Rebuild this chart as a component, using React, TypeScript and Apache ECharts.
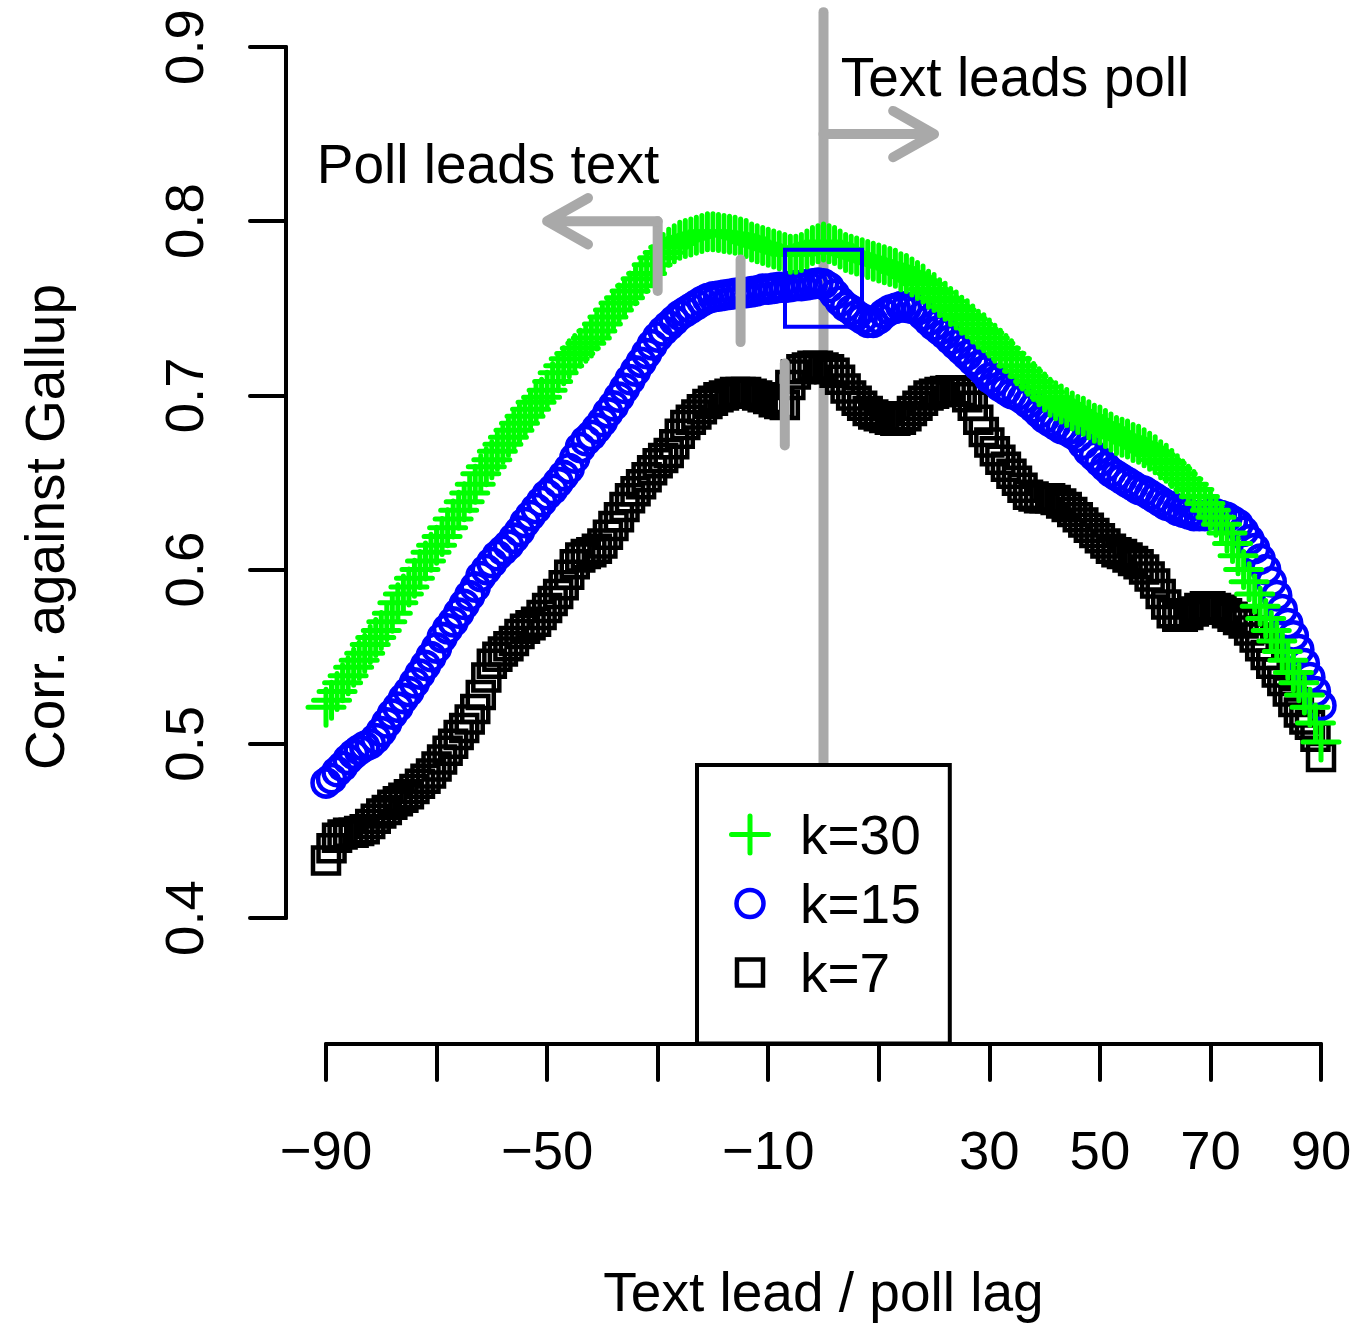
import React, { useEffect, useRef } from "react";
import * as echarts from "echarts";

const W = 1358;
const H = 1323;
const FONT = "'Liberation Sans', Arial, Helvetica, sans-serif";
const FS = 55;
const FS_TICK = 54.5;
const GREY = "#A9A9A9";

// lags -90 .. 90
const lags: number[] = Array.from({ length: 181 }, (_, i) => i - 90);

// k = 30 (green +)
const k30: number[] = [
  0.521, 0.525, 0.53, 0.535, 0.539, 0.544, 0.548, 0.552, 0.557, 0.561,
  0.565, 0.57, 0.575, 0.581, 0.586, 0.59, 0.595, 0.6, 0.605, 0.61,
  0.614, 0.619, 0.624, 0.629, 0.634, 0.639, 0.644, 0.649, 0.655, 0.659,
  0.663, 0.668, 0.672, 0.676, 0.68, 0.684, 0.688, 0.692, 0.696, 0.699,
  0.703, 0.708, 0.713, 0.717, 0.721, 0.724, 0.727, 0.73, 0.733, 0.737,
  0.741, 0.745, 0.749, 0.753, 0.756, 0.76, 0.763, 0.767, 0.77, 0.775,
  0.779, 0.782, 0.785, 0.787, 0.789, 0.79, 0.791, 0.792, 0.793, 0.794,
  0.794, 0.7935, 0.793, 0.7925, 0.792, 0.791, 0.79, 0.788, 0.787, 0.786,
  0.785, 0.784, 0.783, 0.782, 0.781, 0.781, 0.782, 0.784, 0.786, 0.787,
  0.788, 0.787, 0.786, 0.784, 0.782, 0.781, 0.78, 0.779, 0.778, 0.777,
  0.776, 0.775, 0.774, 0.773, 0.771, 0.77, 0.768, 0.766, 0.764, 0.761,
  0.759, 0.756, 0.754, 0.751, 0.749, 0.746, 0.744, 0.741, 0.738, 0.736,
  0.733, 0.73, 0.727, 0.724, 0.721, 0.717, 0.714, 0.711, 0.708, 0.705,
  0.702, 0.699, 0.697, 0.695, 0.693, 0.691, 0.689, 0.688, 0.686, 0.684,
  0.683, 0.681, 0.679, 0.677, 0.676, 0.675, 0.673, 0.672, 0.67, 0.668,
  0.666, 0.663, 0.661, 0.658, 0.655, 0.652, 0.649, 0.646, 0.642, 0.638,
  0.634, 0.63, 0.626, 0.621, 0.615, 0.608, 0.6, 0.593, 0.586, 0.579,
  0.572, 0.565, 0.559, 0.553, 0.548, 0.541, 0.535, 0.528, 0.521, 0.512,
  0.501,
];

// k = 15 (blue o)
const k15: number[] = [
  0.4775, 0.48, 0.484, 0.487, 0.491, 0.494, 0.4965, 0.4985, 0.5, 0.503,
  0.507, 0.512, 0.517, 0.521, 0.526, 0.53, 0.535, 0.54, 0.545, 0.55,
  0.555, 0.561, 0.566, 0.57, 0.575, 0.58, 0.585, 0.59, 0.596, 0.6,
  0.604, 0.608, 0.611, 0.614, 0.618, 0.622, 0.627, 0.631, 0.635, 0.639,
  0.643, 0.646, 0.65, 0.654, 0.658, 0.664, 0.67, 0.674, 0.677, 0.681,
  0.685, 0.69, 0.694, 0.699, 0.704, 0.709, 0.714, 0.719, 0.724, 0.729,
  0.7335, 0.737, 0.74, 0.743, 0.746, 0.748, 0.75, 0.752, 0.754, 0.7555,
  0.7565, 0.757, 0.7575, 0.758, 0.7585, 0.759, 0.759, 0.7595, 0.76, 0.761,
  0.761, 0.7615, 0.762, 0.762, 0.7625, 0.763, 0.763, 0.7635, 0.764, 0.7645,
  0.764, 0.762, 0.758, 0.754, 0.751, 0.749, 0.746, 0.744, 0.742, 0.742,
  0.744, 0.747, 0.749, 0.75, 0.751, 0.7505, 0.75, 0.749, 0.746, 0.743,
  0.74, 0.7375, 0.735, 0.732, 0.729, 0.726, 0.723, 0.72, 0.717, 0.714,
  0.71, 0.708, 0.705, 0.703, 0.701, 0.7, 0.698, 0.6956, 0.693, 0.69,
  0.687, 0.685, 0.683, 0.681, 0.68, 0.678, 0.676, 0.672, 0.668, 0.665,
  0.662, 0.659, 0.656, 0.654, 0.652, 0.65, 0.648, 0.646, 0.645, 0.643,
  0.641, 0.639, 0.637, 0.636, 0.634, 0.633, 0.632, 0.631, 0.631, 0.631,
  0.632, 0.632, 0.631, 0.63, 0.628, 0.626, 0.622, 0.617, 0.612, 0.606,
  0.6, 0.593, 0.585, 0.577, 0.569, 0.562, 0.554, 0.546, 0.538, 0.53,
  0.522,
];

// k = 7 (black squares)
const k7: number[] = [
  0.433, 0.44, 0.446, 0.448, 0.449, 0.449, 0.45, 0.451, 0.454, 0.457,
  0.46, 0.462, 0.465, 0.467, 0.469, 0.471, 0.474, 0.477, 0.48, 0.483,
  0.487, 0.491, 0.496, 0.5, 0.505, 0.509, 0.514, 0.52, 0.528, 0.538,
  0.546, 0.55, 0.553, 0.556, 0.559, 0.563, 0.566, 0.568, 0.57, 0.574,
  0.578, 0.582, 0.586, 0.591, 0.597, 0.603, 0.607, 0.609, 0.61, 0.612,
  0.615, 0.62, 0.625, 0.63, 0.636, 0.641, 0.645, 0.649, 0.653, 0.657,
  0.661, 0.664, 0.667, 0.672, 0.678, 0.683, 0.686, 0.689, 0.692, 0.695,
  0.697, 0.699, 0.7, 0.701, 0.702, 0.702, 0.702, 0.701, 0.7, 0.699,
  0.698, 0.696, 0.695, 0.6945, 0.706, 0.712, 0.715, 0.716, 0.717, 0.717,
  0.716, 0.715, 0.713, 0.709, 0.704, 0.7, 0.697, 0.694, 0.691, 0.689,
  0.688, 0.687, 0.686, 0.6855, 0.686, 0.688, 0.691, 0.694, 0.697, 0.7,
  0.701, 0.702, 0.7025, 0.703, 0.703, 0.702, 0.699, 0.694, 0.686, 0.679,
  0.673, 0.668, 0.663, 0.659, 0.655, 0.651, 0.647, 0.643, 0.642, 0.641,
  0.641, 0.641, 0.64, 0.638, 0.636, 0.633, 0.63, 0.627, 0.624, 0.621,
  0.618, 0.615, 0.612, 0.61, 0.609, 0.607, 0.605, 0.603, 0.6, 0.596,
  0.592, 0.586, 0.58, 0.575, 0.573, 0.573, 0.574, 0.576, 0.578, 0.579,
  0.579, 0.578, 0.577, 0.575, 0.573, 0.571, 0.569, 0.565, 0.561, 0.556,
  0.551, 0.546, 0.541, 0.536, 0.53, 0.524, 0.518, 0.514, 0.511, 0.504,
  0.4924,
];

// axis ticks / labels
const xTicksLabelled: number[] = [-90, -50, -10, 30, 50, 70, 90];

// annotations (data units)
const vLineLag = 0;
const vLineRange: number[] = [0.338, 0.92];
const segLags: number[] = [-30, -15, -7];
const segLo: number[] = [0.76, 0.7306, 0.6712];
const segHi: number[] = [0.8, 0.778, 0.7183];
const peakLag = 0;
const peakValue = 0.7615;
const leftArrow: number[] = [-30, -50, 0.8]; // from, to, y
const rightArrow: number[] = [0, 20, 0.85];
const headDx = 7.4;
const headDy = 0.0133;

const pts = (ys: number[]) => lags.map((l, i) => [l, ys[i]]);

const greyLine = (data: number[][], z = 3) => ({
  type: "line",
  data,
  symbol: "none",
  showSymbol: false,
  clip: false,
  silent: true,
  z,
  lineStyle: { color: GREY, width: 10, cap: "round", join: "round", opacity: 1 },
});

const arrowData = (a: number[]) => {
  const [from, to, y] = a;
  const dir = to > from ? -1 : 1;
  return [
    [from, y],
    [to, y],
    [to + dir * headDx, y + headDy],
    [to, y],
    [to + dir * headDx, y - headDy],
  ];
};

const PLUS = "path://M18 0V36M0 18H36";

function buildOption(): any {
  const series: any[] = [];
  series.push(
    greyLine(
      [
        [vLineLag, vLineRange[0]],
        [vLineLag, vLineRange[1]],
      ],
      1
    )
  );
  series.push({
    type: "scatter",
    name: "k=7",
    data: pts(k7),
    symbol: "rect",
    symbolSize: 26,
    silent: true,
    z: 2,
    itemStyle: { color: "transparent", borderColor: "#000000", borderWidth: 4.5, opacity: 1 },
  });
  series.push({
    type: "scatter",
    name: "k=15",
    data: pts(k15),
    symbol: "circle",
    symbolSize: 27,
    silent: true,
    z: 2,
    itemStyle: { color: "transparent", borderColor: "#0000FF", borderWidth: 4.5, opacity: 1 },
  });
  series.push({
    type: "scatter",
    name: "k=30",
    data: pts(k30),
    symbol: PLUS,
    symbolSize: 36,
    silent: true,
    z: 2,
    itemStyle: {
      color: "transparent",
      borderColor: "#00FF00",
      borderWidth: 5,
      borderCap: "round",
      opacity: 1,
    },
  });
  series.push({
    type: "scatter",
    data: [[peakLag, peakValue]],
    symbol: "rect",
    symbolSize: 77,
    silent: true,
    z: 3,
    itemStyle: { color: "transparent", borderColor: "#0000FF", borderWidth: 4, opacity: 1 },
  });
  segLags.forEach((l, i) => {
    series.push(
      greyLine([
        [l, segLo[i]],
        [l, segHi[i]],
      ])
    );
  });
  series.push(greyLine(arrowData(leftArrow)));
  series.push(greyLine(arrowData(rightArrow)));

  const textStyleBase = {
    fontSize: FS,
    fontFamily: FONT,
    fill: "#000",
    align: "center",
    verticalAlign: "middle",
    textAlign: "center",
    textVerticalAlign: "middle",
  };

  return {
    animation: false,
    backgroundColor: "#ffffff",
    grid: {
      left: 326,
      right: W - 1321,
      top: 47,
      bottom: H - 918,
      containLabel: false,
      outerBoundsMode: "none",
    },
    xAxis: {
      type: "value",
      min: -90,
      max: 90,
      interval: 20,
      position: "bottom",
      offset: 126,
      splitLine: { show: false },
      axisLine: {
        show: true,
        onZero: false,
        lineStyle: { color: "#000", width: 4, cap: "round" },
      },
      axisTick: {
        show: true,
        inside: false,
        length: 36,
        lineStyle: { color: "#000", width: 4, cap: "round" },
      },
      axisLabel: {
        show: true,
        margin: 79,
        fontSize: FS_TICK,
        fontFamily: FONT,
        color: "#000",
        formatter: (v: number) => {
          const r = Math.round(v);
          if (xTicksLabelled.indexOf(r) < 0) return "";
          return r < 0 ? "\u2212" + Math.abs(r) : String(r);
        },
      },
    },
    yAxis: {
      type: "value",
      min: 0.4,
      max: 0.9,
      interval: 0.1,
      position: "left",
      offset: 40,
      splitLine: { show: false },
      axisLine: {
        show: true,
        onZero: false,
        lineStyle: { color: "#000", width: 4, cap: "round" },
      },
      axisTick: {
        show: true,
        inside: false,
        length: 36,
        lineStyle: { color: "#000", width: 4, cap: "round" },
      },
      axisLabel: {
        show: true,
        rotate: 90,
        margin: 74,
        fontSize: FS_TICK,
        fontFamily: FONT,
        color: "#000",
        formatter: (v: number) => v.toFixed(1),
      },
    },
    legend: {
      show: true,
      orient: "vertical",
      left: 697,
      top: 765,
      padding: [42, 29, 43.5, 29.5],
      itemGap: 14,
      itemWidth: 90,
      itemHeight: 42,
      backgroundColor: "#ffffff",
      borderColor: "#000000",
      borderWidth: 4,
      borderRadius: 0,
      selectedMode: false,
      z: 6,
      textStyle: {
        fontSize: FS,
        fontFamily: FONT,
        color: "#000",
        lineHeight: 54,
      },
      data: [
        {
          name: "k=30",
          icon: "path://M0 0M42 42M21 2.5V39.5M2.5 21H39.5",
          itemStyle: { borderWidth: 5, borderCap: "round", opacity: 1 },
        },
        {
          name: "k=15",
          icon: "path://M0 0M42 42M34.5 21A13.5 13.5 0 1 1 7.5 21A13.5 13.5 0 1 1 34.5 21Z",
          itemStyle: { borderWidth: 4.5, opacity: 1 },
        },
        {
          name: "k=7",
          icon: "path://M0 0M42 42M8 8H34V34H8Z",
          itemStyle: { borderWidth: 4.5, opacity: 1 },
        },
      ],
    },
    graphic: [
      {
        type: "text",
        x: 1015,
        y: 76.6,
        z: 10,
        silent: true,
        style: { ...textStyleBase, text: "Text leads poll" },
      },
      {
        type: "text",
        x: 488,
        y: 164.3,
        z: 10,
        silent: true,
        style: { ...textStyleBase, text: "Poll leads text" },
      },
      {
        type: "text",
        x: 823.5,
        y: 1291.5,
        z: 10,
        silent: true,
        style: { ...textStyleBase, text: "Text lead / poll lag" },
      },
      {
        type: "text",
        x: 45,
        y: 527,
        rotation: Math.PI / 2,
        z: 10,
        silent: true,
        style: { ...textStyleBase, text: "Corr. against Gallup" },
      },
    ],
    series,
  };
}

export default function App() {
  const ref = useRef<HTMLDivElement>(null);
  useEffect(() => {
    if (!ref.current) return;
    const chart = echarts.init(ref.current, null, {
      renderer: "svg",
      width: W,
      height: H,
    });
    chart.setOption(buildOption());
    return () => {
      chart.dispose();
    };
  }, []);
  return (
    <div
      ref={ref}
      style={{ position: "absolute", left: 0, top: 0, width: W, height: H, background: "#fff" }}
    />
  );
}
